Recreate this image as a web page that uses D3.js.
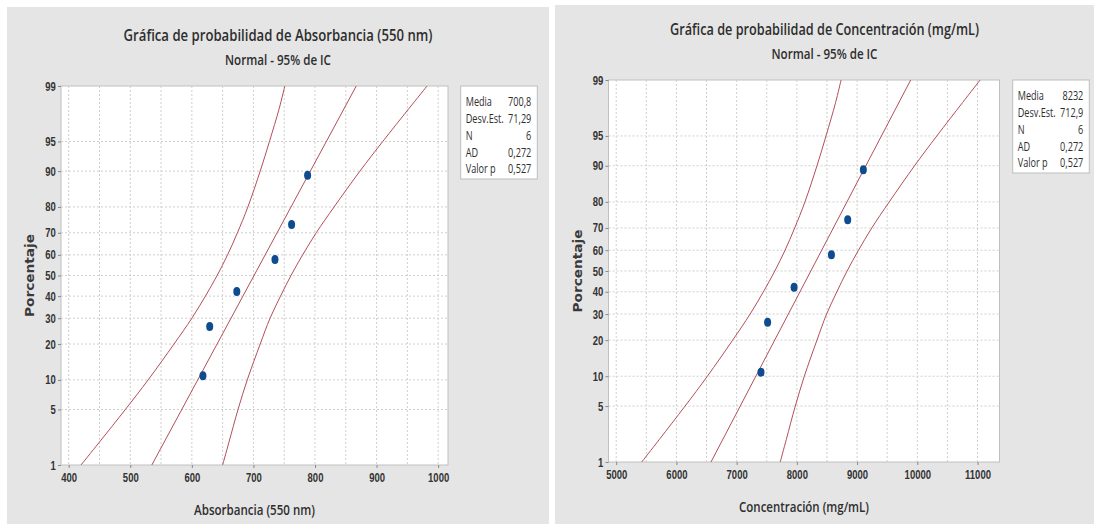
<!DOCTYPE html>
<html lang="es">
<head>
<meta charset="utf-8">
<title>Gráfica de probabilidad</title>
<script src="https://d3js.org/d3.v7.min.js"></script>
<style>
  body { margin: 0; background: #fff; }
  svg { display: block; font-family: "Open Sans", "Noto Sans", sans-serif; }
  .grid line { stroke: #cfcfcf; stroke-dasharray: 2,2; }
  .tick line { stroke: #888; }
  .tick text { fill: #333; font-size: 12.5px; font-weight: 600; }
  .ci { fill: none; stroke: #b24f59; stroke-width: 1; }
</style>
</head>
<body>
<svg id="chart" width="1094" height="524"></svg>
<script>
// percentages on the probability axis
const probTicks = [1, 5, 10, 20, 30, 40, 50, 60, 70, 80, 90, 95, 99];
// plotting positions of the 6 points (median ranks)
const pointPct = [10.9, 26.6, 42.2, 57.8, 73.4, 89.1];
const absValues = [618, 629, 673, 735, 762, 788];
const concValues = [7404, 7514, 7954, 8574, 8844, 9104];

// fitted line and 95% CI
const fitPct = [1, 99];
const absFit = [535, 867];
const concFit = [6574, 9890];
const bandPct = [1, 2, 5, 10, 20, 30, 40, 50, 60, 70, 80, 90, 95, 98, 99];
const absLower = [420, 449, 492, 529, 571, 600, 622, 641, 658, 674, 691, 711, 726, 742, 751];
const absUpper = [650, 660, 675, 690, 711, 727, 744, 761, 780, 802, 831, 873, 910, 953, 982];
const concLower = [5424, 5714, 6144, 6514, 6934, 7224, 7444, 7634, 7804, 7964, 8134, 8334, 8484, 8644, 8734];
const concUpper = [7724, 7824, 7974, 8124, 8334, 8494, 8664, 8834, 9024, 9244, 9534, 9954, 10324, 10754, 11044];

const absTicks = [400, 500, 600, 700, 800, 900, 1000];
const concTicks = [5000, 6000, 7000, 8000, 9000, 10000, 11000];

const statLabels = ["Media", "Desv.Est.", "N", "AD", "Valor p"];
const absStats = ["700,8", "71,29", "6", "0,272", "0,527"];
const concStats = ["8232", "712,9", "6", "0,272", "0,527"];

const sx = 0.76; // the source picture is squeezed horizontally

// inverse normal CDF (Acklam)
function probit(p) {
  const a = [-39.69683028665376, 220.9460984245205, -275.9285104469687, 138.3577518672690, -30.66479806614716, 2.506628277459239];
  const b = [-54.47609879822406, 161.5858368580409, -155.6989798598866, 66.80131188771972, -13.28068155288572];
  const c = [-0.007784894002430293, -0.3223964580411365, -2.400758277161838, -2.549732673753055, 4.374664141464968, 2.938163982698783];
  const d = [0.007784695709041462, 0.3224671290700398, 2.445134137142996, 3.754408661907416];
  const lo = 0.02425;
  let q, r;
  if (p < lo) {
    q = Math.sqrt(-2 * Math.log(p));
    return (((((c[0]*q+c[1])*q+c[2])*q+c[3])*q+c[4])*q+c[5]) / ((((d[0]*q+d[1])*q+d[2])*q+d[3])*q+1);
  }
  if (p <= 1 - lo) {
    q = p - 0.5; r = q * q;
    return (((((a[0]*r+a[1])*r+a[2])*r+a[3])*r+a[4])*r+a[5])*q / (((((b[0]*r+b[1])*r+b[2])*r+b[3])*r+b[4])*r+1);
  }
  q = Math.sqrt(-2 * Math.log(1 - p));
  return -(((((c[0]*q+c[1])*q+c[2])*q+c[3])*q+c[4])*q+c[5]) / ((((d[0]*q+d[1])*q+d[2])*q+d[3])*q+1);
}

const svg = d3.select("#chart");

// squeeze a text to a given width around its anchor
function fitText(t, x, y, w, rot) {
  const len = t.node().getComputedTextLength();
  t.attr("transform", `translate(${x},${y})${rot ? " rotate(-90)" : ""} scale(${w / len},1)`);
}

function drawPanel(cfg) {
  const g = svg.append("g");
  g.append("rect")
    .attr("x", cfg.px0).attr("y", cfg.py0)
    .attr("width", cfg.px1 - cfg.px0).attr("height", 524 - cfg.py0)
    .attr("fill", "#e5e5e5");

  const x = d3.scaleLinear().domain(cfg.xDomain).range([cfg.l, cfg.r]);
  const zMax = probit(0.99);
  const y = d3.scaleLinear().domain([-zMax, zMax]).range([cfg.b, cfg.t]);
  const yp = p => y(probit(p / 100));

  g.append("rect")
    .attr("x", cfg.l).attr("y", cfg.t)
    .attr("width", cfg.r - cfg.l).attr("height", cfg.b - cfg.t)
    .attr("fill", "#fff").attr("stroke", "#c0c0c0");

  const clipId = "clip" + cfg.id;
  g.append("clipPath").attr("id", clipId)
    .append("rect")
    .attr("x", cfg.l).attr("y", cfg.t)
    .attr("width", cfg.r - cfg.l).attr("height", cfg.b - cfg.t);

  // grid
  const grid = g.append("g").attr("class", "grid");
  grid.selectAll(".v").data(x.ticks(cfg.gridCount)).join("line")
    .attr("x1", d => x(d)).attr("x2", d => x(d))
    .attr("y1", cfg.t).attr("y2", cfg.b);
  grid.selectAll(".h").data(probTicks.slice(1, -1)).join("line")
    .attr("x1", cfg.l).attr("x2", cfg.r)
    .attr("y1", d => yp(d)).attr("y2", d => yp(d));

  // fit + confidence bands
  const plot = g.append("g").attr("clip-path", `url(#${clipId})`);
  const curve = d3.line().x(d => x(d[0])).y(d => yp(d[1])).curve(d3.curveCatmullRom);
  plot.append("path").attr("class", "ci").attr("d", curve(d3.zip(cfg.lower, bandPct)));
  plot.append("path").attr("class", "ci").attr("d", curve(d3.zip(cfg.upper, bandPct)));
  plot.append("path").attr("class", "ci").attr("d", curve(d3.zip(cfg.fit, fitPct)));

  plot.selectAll("ellipse").data(d3.zip(cfg.values, pointPct)).join("ellipse")
    .attr("cx", d => x(d[0])).attr("cy", d => yp(d[1]))
    .attr("rx", 3.5).attr("ry", 4.5)
    .attr("fill", "#0f4b8f");

  // axes
  const ax = g.append("g").attr("transform", `translate(0,${cfg.b})`)
    .call(d3.axisBottom(x).tickValues(cfg.ticks).tickSize(3).tickPadding(5).tickFormat(d3.format("d")));
  ax.select(".domain").remove();
  ax.selectAll(".tick text").attr("transform", `scale(${sx},1)`);

  const ay = g.append("g").attr("transform", `translate(${cfg.l},0)`)
    .call(d3.axisLeft(y).tickValues(probTicks.map(p => probit(p / 100)))
      .tickFormat((d, i) => probTicks[i]).tickSize(3).tickPadding(4));
  ay.select(".domain").remove();
  ay.selectAll(".tick text").attr("transform", `scale(${sx},1)`);

  // titles
  const cx = (cfg.px0 + cfg.px1) / 2;
  const t1 = g.append("text").attr("text-anchor", "middle")
    .attr("font-size", 17).attr("font-weight", 600).attr("fill", "#2e2e2e").text(cfg.title);
  fitText(t1, cx, cfg.t - 45, 309);
  const t2 = g.append("text").attr("text-anchor", "middle")
    .attr("font-size", 14).attr("font-weight", 600).attr("fill", "#2e2e2e").text("Normal - 95% de IC");
  fitText(t2, cx, cfg.t - 21, 106);

  const xt = g.append("text").attr("text-anchor", "middle")
    .attr("font-size", 15).attr("font-weight", 600).attr("fill", "#2e2e2e").text(cfg.xLabel);
  fitText(xt, (cfg.l + cfg.r) / 2, cfg.b + 50, cfg.xLabelW);

  const yt = g.append("text").attr("text-anchor", "middle")
    .attr("font-family", "DejaVu Sans").attr("font-weight", "bold")
    .attr("font-size", 12.5).attr("fill", "#3a3a3a").text("Porcentaje");
  fitText(yt, cfg.l - 27, (cfg.t + cfg.b) / 2, 83, true);

  // stats box
  const bx = cfg.legendX, bw = 76.6, by = cfg.t;
  g.append("rect").attr("x", bx).attr("y", by)
    .attr("width", bw).attr("height", 93)
    .attr("fill", "#fff").attr("stroke", "#bdbdbd");
  const rows = g.append("g").attr("font-size", 12).attr("fill", "#2e2e2e");
  rows.selectAll(".lab").data(statLabels).join("text")
    .attr("transform", (d, i) => `translate(${bx + 5},${by + 16 + i * 16.8}) scale(${sx},1)`)
    .attr("dy", "0.35em").text(d => d);
  rows.selectAll(".val").data(cfg.stats).join("text")
    .attr("text-anchor", "end")
    .attr("transform", (d, i) => `translate(${bx + bw - 6},${by + 16 + i * 16.8}) scale(${sx},1)`)
    .attr("dy", "0.35em").text(d => d);
}

drawPanel({
  id: "a", px0: 7, px1: 549, py0: 7,
  l: 61, r: 448, t: 86, b: 465,
  xDomain: [387.5, 1016], gridCount: 12, ticks: absTicks,
  values: absValues, fit: absFit, lower: absLower, upper: absUpper,
  title: "Gráfica de probabilidad de Absorbancia (550 nm)",
  xLabel: "Absorbancia (550 nm)", xLabelW: 121,
  legendX: 460.7, stats: absStats
});

drawPanel({
  id: "b", px0: 555, px1: 1094, py0: 5,
  l: 608.5, r: 999.5, t: 80, b: 462,
  xDomain: [4872, 11365], gridCount: 12, ticks: concTicks,
  values: concValues, fit: concFit, lower: concLower, upper: concUpper,
  title: "Gráfica de probabilidad de Concentración (mg/mL)",
  xLabel: "Concentración (mg/mL)", xLabelW: 130,
  legendX: 1012.7, stats: concStats
});
</script>
</body>
</html>
